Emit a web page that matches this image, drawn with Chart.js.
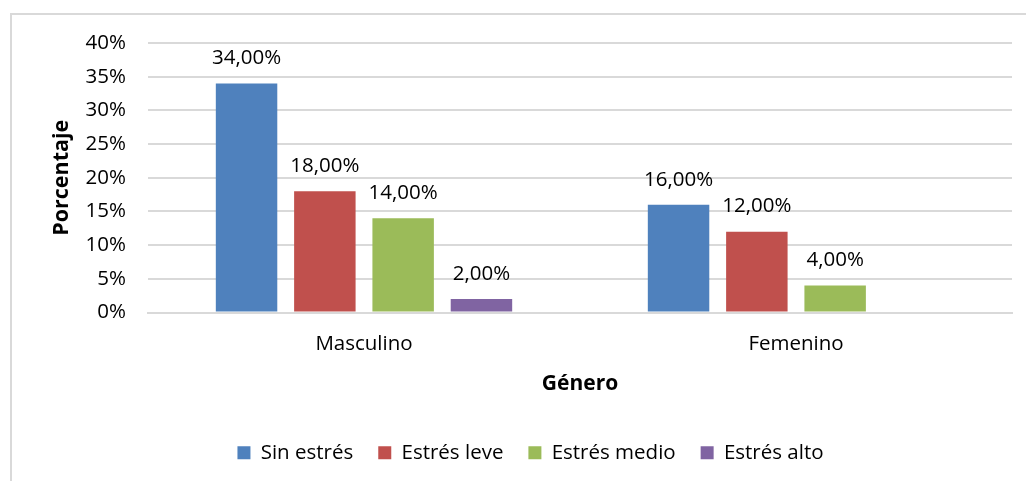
<!DOCTYPE html>
<html>
<head>
<meta charset="utf-8">
<script src="https://cdn.jsdelivr.net/npm/chart.js@4/dist/chart.umd.min.js"></script>
<style>
  html, body { margin: 0; padding: 0; background: #fff; }
  #wrap { position: relative; width: 1026px; height: 481px; }
</style>
</head>
<body>
<div id="wrap"><canvas id="chart" width="1026" height="481"></canvas></div>
<script>
// Stress level by gender (percent)
const categories = ['Masculino', 'Femenino'];
const seriesNames = ['Sin estrés', 'Estrés leve', 'Estrés medio', 'Estrés alto'];
const sinEstres = [34, 16];
const estresLeve = [18, 12];
const estresMedio = [14, 4];
const estresAlto = [2, 0];
const yTicks = [0, 5, 10, 15, 20, 25, 30, 35, 40];

const colors = ['#4F81BD', '#C0504D', '#9BBB59', '#8064A2'];
const FONT = '"Open Sans", sans-serif';

const fmtLabel = v => v.toFixed(2).replace('.', ',') + '%';

// light frame (top + left edges only, like the cropped Excel chart)
const framePlugin = {
  id: 'frame',
  beforeDraw(chart) {
    const ctx = chart.ctx;
    ctx.save();
    ctx.strokeStyle = '#D9D9D9';
    ctx.lineWidth = 2;
    ctx.beginPath();
    ctx.moveTo(11, 481);
    ctx.lineTo(11, 14);
    ctx.lineTo(1026, 14);
    ctx.stroke();
    ctx.restore();
  }
};

// value labels over each bar
const valueLabels = {
  id: 'valueLabels',
  afterDatasetsDraw(chart) {
    const ctx = chart.ctx;
    ctx.save();
    ctx.font = '20.5px ' + FONT;
    ctx.fillStyle = '#000';
    ctx.textAlign = 'center';
    ctx.textBaseline = 'middle';
    chart.data.datasets.forEach((ds, i) => {
      chart.getDatasetMeta(i).data.forEach((bar, j) => {
        const v = ds.data[j];
        if (!v) return;
        ctx.fillText(fmtLabel(v), bar.x, bar.y - 25);
      });
    });
    ctx.restore();
  }
};

const seriesData = [sinEstres, estresLeve, estresMedio, estresAlto];

new Chart(document.getElementById('chart').getContext('2d'), {
  type: 'bar',
  data: {
    labels: categories,
    datasets: seriesNames.map((name, i) => ({
      label: name,
      data: seriesData[i],
      backgroundColor: colors[i],
      borderWidth: 0,
      categoryPercentage: 0.725,
      barPercentage: 0.785
    }))
  },
  options: {
    responsive: false,
    animation: false,
    layout: { padding: { left: 49, right: 14, top: 43, bottom: 8 } },
    plugins: {
      legend: {
        position: 'bottom',
        labels: {
          color: '#000',
          boxWidth: 13,
          boxHeight: 13,
          padding: 25,
          font: { family: FONT, size: 20.5 }
        }
      },
      tooltip: { enabled: false }
    },
    scales: {
      x: {
        grid: { display: false, drawTicks: false },
        border: { color: '#D9D9D9', width: 2 },
        ticks: { color: '#000', padding: 19, font: { family: FONT, size: 20.5 } },
        title: {
          display: true,
          text: 'Género',
          color: '#000',
          padding: { top: 0, bottom: 21 },
          font: { family: FONT, size: 21, weight: 'bold' }
        },
        afterFit(scale) { scale.height = 105; }
      },
      y: {
        min: 0,
        max: 40,
        afterBuildTicks(scale) { scale.ticks = yTicks.map(v => ({ value: v })); },
        grid: { color: '#D9D9D9', lineWidth: 2, drawTicks: false },
        border: { display: false },
        ticks: {
          color: '#000',
          padding: 22,
          font: { family: FONT, size: 20.5 },
          callback: v => v + '%'
        },
        title: {
          display: true,
          text: 'Porcentaje',
          color: '#000',
          padding: 0,
          font: { family: FONT, size: 21.5, weight: 'bold' }
        },
        afterFit(scale) { scale.width = 99; }
      }
    }
  },
  plugins: [framePlugin, valueLabels]
});
</script>
</body>
</html>
